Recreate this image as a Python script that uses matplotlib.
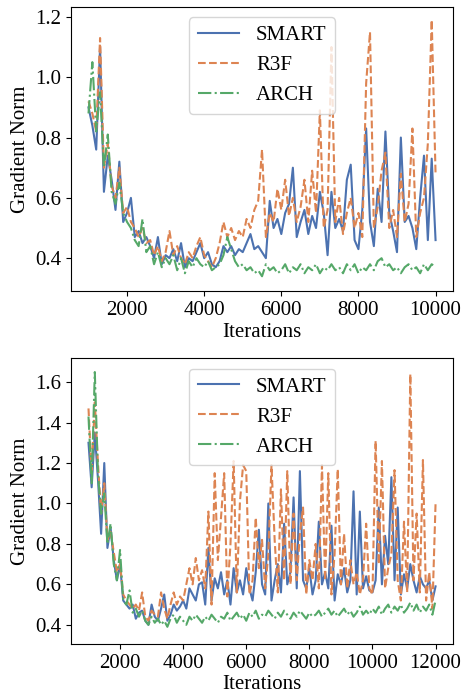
import numpy as np
import matplotlib
matplotlib.use("Agg")
import matplotlib.pyplot as plt

plt.rcParams["font.family"] = ["Liberation Serif", "DejaVu Serif"]
plt.rcParams["font.size"] = 15

# ---- top run (1000 .. 10000) ----
iters_a = np.arange(1000, 10001, 100)
smart_a = [0.90, 0.84, 0.76, 1.10, 0.62, 0.74, 0.66, 0.56, 0.72, 0.52,
           0.55, 0.60, 0.47, 0.49, 0.45, 0.47, 0.44, 0.40, 0.47, 0.38,
           0.41, 0.40, 0.43, 0.39, 0.45, 0.37, 0.40, 0.39, 0.42, 0.45,
           0.40, 0.42, 0.38, 0.37, 0.39, 0.44, 0.42, 0.44, 0.41, 0.43,
           0.42, 0.45, 0.48, 0.43, 0.44, 0.42, 0.40, 0.59, 0.50, 0.53,
           0.48, 0.55, 0.58, 0.70, 0.47, 0.52, 0.56, 0.48, 0.54, 0.50,
           0.62, 0.55, 0.41, 0.62, 0.50, 0.53, 0.49, 0.66, 0.71, 0.46,
           0.43, 0.56, 0.83, 0.52, 0.44, 0.63, 0.52, 0.82, 0.55, 0.49,
           0.42, 0.80, 0.52, 0.54, 0.50, 0.43, 0.60, 0.74, 0.46, 0.73,
           0.46]
r3f_a = [0.92, 0.88, 0.82, 1.13, 0.70, 0.78, 0.64, 0.60, 0.70, 0.55,
         0.57, 0.52, 0.50, 0.47, 0.50, 0.45, 0.46, 0.41, 0.44, 0.39,
         0.42, 0.49, 0.41, 0.44, 0.40, 0.38, 0.42, 0.40, 0.44, 0.47,
         0.41, 0.39, 0.37, 0.40, 0.45, 0.52, 0.47, 0.50, 0.46, 0.49,
         0.47, 0.53, 0.50, 0.56, 0.59, 0.76, 0.47, 0.55, 0.52, 0.63,
         0.56, 0.66, 0.54, 0.60, 0.52, 0.57, 0.66, 0.52, 0.69, 0.55,
         0.89, 0.50, 0.56, 1.10, 0.52, 0.60, 0.48, 0.55, 0.60, 0.50,
         0.55, 0.47, 0.98, 1.15, 0.50, 0.57, 0.69, 0.75, 0.50, 0.56,
         0.47, 0.68, 0.52, 0.58, 0.83, 0.47, 0.55, 0.60, 0.78, 1.19,
         0.68]
arch_a = [0.88, 1.05, 0.82, 0.95, 0.70, 0.81, 0.62, 0.58, 0.65, 0.55,
          0.52, 0.50, 0.46, 0.44, 0.53, 0.42, 0.44, 0.38, 0.42, 0.37,
          0.40, 0.38, 0.41, 0.36, 0.40, 0.35, 0.39, 0.37, 0.40, 0.38,
          0.37, 0.39, 0.36, 0.37, 0.38, 0.41, 0.47, 0.43, 0.39, 0.37,
          0.38, 0.36, 0.37, 0.35, 0.36, 0.34, 0.38, 0.36, 0.37, 0.35,
          0.36, 0.38, 0.35, 0.37, 0.36, 0.38, 0.35, 0.37, 0.36, 0.38,
          0.35, 0.37, 0.36, 0.38, 0.36, 0.37, 0.35, 0.38, 0.36, 0.38,
          0.35, 0.37, 0.36, 0.38, 0.36, 0.39, 0.40, 0.37, 0.38, 0.36,
          0.37, 0.35, 0.37, 0.38, 0.36, 0.37, 0.35, 0.38, 0.36, 0.38,
          0.37]

# ---- bottom run (1000 .. 12000) ----
iters_b = np.arange(1000, 12001, 100)
smart_b = [1.30, 1.08, 1.35, 1.12, 0.85, 1.20, 0.78, 0.88, 0.72, 0.62,
           0.70, 0.52, 0.50, 0.48, 0.50, 0.43, 0.46, 0.47, 0.42, 0.40,
           0.50, 0.44, 0.42, 0.48, 0.55, 0.42, 0.45, 0.50, 0.47, 0.49,
           0.52, 0.48, 0.58, 0.55, 0.52, 0.60, 0.61, 0.50, 0.78, 0.52,
           0.63, 0.58, 0.66, 0.55, 0.62, 0.50, 0.68, 0.56, 0.62, 0.55,
           0.68, 0.58, 0.52, 0.66, 0.87, 0.60, 0.55, 1.00, 0.52, 0.62,
           0.70, 0.56, 0.90, 0.60, 0.66, 1.03, 0.58, 1.16, 0.62, 0.58,
           0.68, 0.55, 0.62, 0.91, 0.60, 0.66, 0.58, 0.89, 0.52, 0.65,
           0.60, 0.68, 0.56, 0.62, 1.06, 0.55, 0.96, 0.58, 0.64, 0.57,
           0.56, 0.62, 0.98, 0.60, 0.84, 0.70, 1.13, 0.62, 0.98, 0.55,
           0.65, 0.58, 0.70, 0.62, 0.56, 0.64, 0.60, 0.58, 0.62, 0.52,
           0.59]
r3f_b = [1.47, 1.15, 1.50, 1.20, 0.95, 1.10, 0.82, 0.86, 0.76, 0.66,
         0.70, 0.55, 0.52, 0.50, 0.48, 0.50, 0.47, 0.56, 0.44, 0.42,
         0.47, 0.45, 0.44, 0.56, 0.48, 0.43, 0.50, 0.56, 0.50, 0.54,
         0.52, 0.60, 0.68, 0.60, 0.73, 0.62, 0.67, 0.58, 0.96, 0.50,
         1.15, 0.72, 0.93, 1.15, 0.54, 0.80, 1.21, 0.56, 1.01, 1.19,
         1.16, 0.55, 0.62, 0.93, 0.68, 0.82, 0.58, 0.75, 1.19, 0.82,
         0.56, 1.07, 0.62, 1.16, 0.60, 0.95, 0.62, 0.85, 0.98, 0.55,
         0.72, 0.62, 0.80, 0.58, 1.19, 0.62, 1.15, 0.55, 0.75, 1.17,
         0.60, 0.85, 0.58, 0.72, 0.60, 0.66, 0.55, 0.62, 0.90, 0.58,
         0.55, 1.31, 0.70, 1.21, 0.58, 0.68, 0.75, 1.165, 0.62, 0.52,
         0.91, 0.56, 1.64, 0.62, 0.95, 0.56, 1.215, 0.52, 0.66, 0.48,
         1.00]
arch_b = [1.43, 1.10, 1.65, 1.15, 0.95, 1.05, 0.80, 0.90, 0.70, 0.62,
          0.77, 0.52, 0.50, 0.57, 0.46, 0.48, 0.44, 0.47, 0.42, 0.40,
          0.44, 0.41, 0.43, 0.40, 0.42, 0.39, 0.43, 0.45, 0.41, 0.44,
          0.42, 0.40, 0.44, 0.42, 0.45, 0.43, 0.41, 0.44, 0.42, 0.45,
          0.43, 0.41, 0.44, 0.43, 0.46, 0.42, 0.44, 0.46, 0.43, 0.45,
          0.42, 0.46, 0.44, 0.47, 0.43, 0.45, 0.44, 0.47, 0.45, 0.43,
          0.46, 0.44, 0.47, 0.45, 0.43, 0.46, 0.44, 0.47, 0.45, 0.43,
          0.46, 0.44, 0.45, 0.47, 0.44, 0.46, 0.48, 0.45, 0.47, 0.44,
          0.46, 0.48, 0.45, 0.47, 0.44, 0.46, 0.49, 0.45, 0.47, 0.45,
          0.48, 0.46, 0.49, 0.45, 0.48, 0.50, 0.46, 0.49, 0.47, 0.50,
          0.46, 0.48, 0.51, 0.47, 0.50, 0.46, 0.49, 0.47, 0.50, 0.45,
          0.52]

blue, orange, green = "#4C72B0", "#DD8452", "#55A868"

fig = plt.figure(figsize=(4.65, 6.93), dpi=100)
top = fig.add_axes([0.153, 0.580, 0.821, 0.410])
bot = fig.add_axes([0.153, 0.071, 0.821, 0.412])

for ax, it, s, r, a in [(top, iters_a, smart_a, r3f_a, arch_a),
                        (bot, iters_b, smart_b, r3f_b, arch_b)]:
    ax.plot(it, s, color=blue, ls="-", lw=1.5, label="SMART")
    ax.plot(it, r, color=orange, ls="--", lw=1.5, label="R3F")
    ax.plot(it, a, color=green, ls="-.", lw=1.5, label="ARCH")
    ax.set_xlabel("Iterations", labelpad=2)
    ax.set_ylabel("Gradient Norm")
    ax.legend(loc="upper center", fontsize=15)

top.set_xlim(550, 10450)
top.set_ylim(0.291, 1.233)
top.set_xticks([2000, 4000, 6000, 8000, 10000])
top.set_yticks([0.4, 0.6, 0.8, 1.0, 1.2])

bot.set_xlim(450, 12550)
bot.set_ylim(0.306, 1.718)
bot.set_xticks([2000, 4000, 6000, 8000, 10000, 12000])
bot.set_yticks([0.4, 0.6, 0.8, 1.0, 1.2, 1.4, 1.6])

fig.savefig("out.png", dpi=100)
